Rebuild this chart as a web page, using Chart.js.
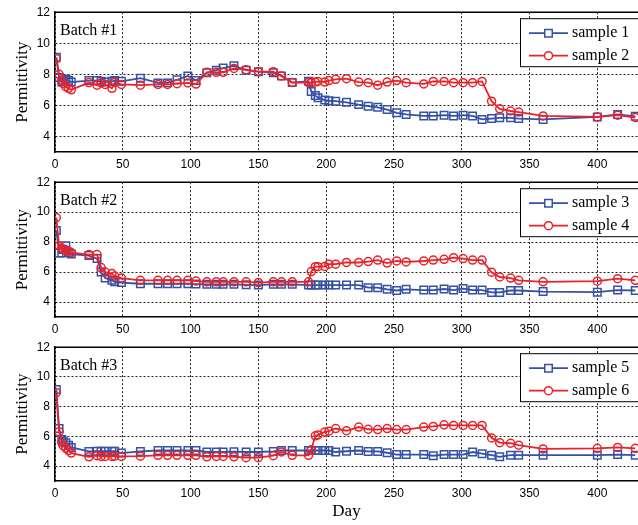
<!DOCTYPE html>
<html>
<head>
<meta charset="utf-8">
<script src="https://cdn.jsdelivr.net/npm/chart.js@4.4.1/dist/chart.umd.min.js"></script>
<style>
  body { margin: 0; background: #fff; width: 638px; height: 525px; overflow: hidden; position: relative; }
  canvas { position: absolute; left: 0; }
</style>
</head>
<body>
<canvas id="c1" width="638" height="170" style="top:0px"></canvas>
<canvas id="c2" width="638" height="165" style="top:170px"></canvas>
<canvas id="c3" width="638" height="190" style="top:335px"></canvas>
<script>
const days = [1, 3, 5, 6, 8, 10, 12, 25, 31, 34, 37, 42, 44, 49, 63, 76, 83, 90, 98, 104,
  112, 119, 124, 132, 141, 150, 161, 167, 175, 187, 189, 192, 194, 199, 202, 207, 215, 224,
  231, 238, 245, 252, 259, 272, 279, 287, 294, 301, 308, 315, 322, 328, 336, 342, 360, 400, 415, 428];

const sample1 = [9.1, 7.8, 7.5, 7.6, 7.7, 7.6, 7.5, 7.6, 7.6, 7.55, 7.5, 7.55, 7.6, 7.55, 7.75, 7.45, 7.45, 7.65, 7.9, 7.6,
  8.1, 8.27, 8.4, 8.55, 8.27, 8.17, 8.1, 7.9, 7.47, 7.55, 6.9, 6.63, 6.5, 6.34, 6.3, 6.27, 6.2, 6.05,
  5.95, 5.88, 5.73, 5.52, 5.42, 5.32, 5.32, 5.37, 5.32, 5.37, 5.32, 5.1, 5.15, 5.2, 5.2, 5.15, 5.1, 5.26, 5.42, 5.3];
const sample2 = [9.0, 8.0, 7.6, 7.4, 7.2, 7.1, 7.0, 7.47, 7.3, 7.45, 7.35, 7.1, 7.47, 7.35, 7.3, 7.35, 7.35, 7.4, 7.45, 7.37,
  8.13, 8.13, 8.13, 8.38, 8.3, 8.17, 8.17, 7.9, 7.47, 7.47, 7.47, 7.5, 7.54, 7.5, 7.6, 7.68, 7.72, 7.5,
  7.46, 7.3, 7.5, 7.6, 7.46, 7.38, 7.54, 7.54, 7.46, 7.46, 7.46, 7.54, 6.27, 5.78, 5.64, 5.57, 5.32, 5.26, 5.37, 5.22];
const sample3 = [8.78, 7.28, 7.28, 7.5, 7.75, 7.3, 7.2, 7.1, 6.9, 6.0, 5.6, 5.45, 5.35, 5.3, 5.22, 5.22, 5.22, 5.22, 5.22, 5.2,
  5.18, 5.18, 5.18, 5.18, 5.15, 5.13, 5.18, 5.18, 5.18, 5.13, 5.13, 5.13, 5.13, 5.13, 5.13, 5.13, 5.13, 5.13,
  4.96, 4.96, 4.85, 4.77, 4.85, 4.8, 4.8, 4.87, 4.8, 4.9, 4.8, 4.8, 4.64, 4.64, 4.77, 4.77, 4.7, 4.66, 4.8, 4.77];
const sample4 = [9.64, 7.75, 7.6, 7.5, 7.45, 7.4, 7.3, 7.17, 7.17, 6.3, 6.0, 5.9, 5.73, 5.6, 5.45, 5.45, 5.45, 5.45, 5.45, 5.4,
  5.35, 5.35, 5.35, 5.35, 5.35, 5.3, 5.35, 5.35, 5.35, 5.35, 6.03, 6.36, 6.36, 6.38, 6.53, 6.53, 6.64, 6.64,
  6.7, 6.8, 6.6, 6.74, 6.68, 6.74, 6.8, 6.85, 6.96, 6.9, 6.8, 6.8, 5.99, 5.67, 5.6, 5.45, 5.35, 5.39, 5.56, 5.45];
const sample5 = [9.16, 6.53, 5.8, 5.68, 5.58, 5.4, 5.26, 4.99, 5.0, 5.0, 5.0, 5.0, 5.0, 4.88, 4.99, 5.05, 5.05, 5.05, 5.05, 5.05,
  4.95, 4.95, 4.95, 4.97, 4.95, 4.95, 4.99, 5.05, 5.05, 5.05, 5.05, 5.05, 5.05, 5.05, 5.05, 4.95, 5.0, 5.05,
  4.99, 4.99, 4.9, 4.78, 4.78, 4.78, 4.7, 4.78, 4.78, 4.78, 4.95, 4.84, 4.74, 4.63, 4.74, 4.74, 4.74, 4.74, 4.78, 4.74];
const sample6 = [8.95, 6.32, 5.58, 5.37, 5.2, 5.05, 4.88, 4.63, 4.7, 4.65, 4.65, 4.65, 4.67, 4.65, 4.67, 4.73, 4.73, 4.73, 4.73, 4.73,
  4.63, 4.65, 4.65, 4.63, 4.57, 4.57, 4.7, 4.95, 4.73, 4.73, 5.1, 6.04, 6.1, 6.3, 6.35, 6.53, 6.38, 6.63,
  6.48, 6.46, 6.53, 6.46, 6.46, 6.63, 6.67, 6.78, 6.74, 6.74, 6.74, 6.74, 5.9, 5.58, 5.54, 5.41, 5.16, 5.2, 5.26, 5.2];

const xTicks = [0, 50, 100, 150, 200, 250, 300, 350, 400];
const yTicks = [4, 6, 8, 10, 12];

const BLUE = "#3451a6";
const RED = "#e8232b";
const serif = "'Liberation Serif', 'Times New Roman', serif";
const sans = "'Liberation Sans', Arial, sans-serif";

// box top, batch label and legend drawn inside the plot
const panelDeco = {
  id: "panelDeco",
  afterDraw(chart, args, opts) {
    const { ctx, chartArea } = chart;
    ctx.save();
    ctx.strokeStyle = "#000";
    ctx.lineWidth = 1.5;
    ctx.beginPath();
    ctx.moveTo(chartArea.left, chartArea.top);
    ctx.lineTo(chartArea.right, chartArea.top);
    ctx.stroke();

    ctx.fillStyle = "#000";
    ctx.font = "16px " + serif;
    ctx.textBaseline = "middle";
    ctx.textAlign = "left";
    ctx.fillText(opts.batch, 60, chartArea.top + 19);

    const bx = 520, by = chartArea.top + 6;
    ctx.fillStyle = "#fff";
    ctx.fillRect(bx, by, 130, 48);
    ctx.lineWidth = 1;
    ctx.strokeRect(bx + 0.5, by + 0.5, 130, 48);

    chart.data.datasets.forEach((ds, i) => {
      const y = by + 15 + i * 22.5;
      ctx.strokeStyle = ds.borderColor;
      ctx.lineWidth = 1.8;
      ctx.beginPath();
      ctx.moveTo(529, y);
      ctx.lineTo(568, y);
      ctx.stroke();
      ctx.lineWidth = 1.5;
      ctx.fillStyle = "#fff";
      ctx.beginPath();
      if (ds.pointStyle === "rect") {
        ctx.rect(548.5 - 3.75, y - 3.75, 7.5, 7.5);
      } else {
        ctx.arc(548.5, y, 4, 0, Math.PI * 2);
      }
      ctx.fill();
      ctx.stroke();
      ctx.fillStyle = "#000";
      ctx.font = "16px " + serif;
      ctx.fillText(ds.label, 572, y);
    });
    ctx.restore();
  }
};

function series(label, vals, color, style) {
  return {
    label: label,
    data: days.map((d, i) => ({ x: d, y: vals[i] })),
    borderColor: color,
    borderWidth: 1.8,
    pointStyle: style,
    pointRadius: style === "rect" ? 5.3 : 4,
    pointBorderWidth: 1.5,
    pointBorderColor: color,
    pointBackgroundColor: "rgba(255,255,255,0)",
    order: style === "rect" ? 1 : 0,
    tension: 0
  };
}

function makePanel(id, batch, blue, red, padTop, xHeight, showDay) {
  new Chart(document.getElementById(id), {
    type: "line",
    data: {
      datasets: [
        series(blue[0], blue[1], BLUE, "rect"),
        series(red[0], red[1], RED, "circle")
      ]
    },
    options: {
      responsive: false,
      animation: false,
      events: [],
      layout: { autoPadding: false, padding: { top: padTop, left: 0, right: 0, bottom: 0 } },
      plugins: {
        legend: { display: false },
        tooltip: { enabled: false },
        panelDeco: { batch: batch }
      },
      scales: {
        x: {
          type: "linear",
          min: 0,
          max: 430,
          afterBuildTicks: (s) => { s.ticks = xTicks.map(v => ({ value: v })); },
          afterFit: (s) => { s.height = xHeight; },
          grid: { color: "#222", lineWidth: 1, drawTicks: false },
          border: { display: true, color: "#000", width: 1.5, dash: [2, 2] },
          ticks: { color: "#000", font: { family: sans, size: 12 }, padding: 5, maxRotation: 0 },
          title: {
            display: showDay, text: "Day", color: "#000",
            font: { family: serif, size: 17 }, padding: { top: 0, bottom: 3 }
          }
        },
        y: {
          min: 3,
          max: 12,
          afterBuildTicks: (s) => { s.ticks = yTicks.map(v => ({ value: v })); },
          afterFit: (s) => { s.width = 55; },
          grid: { color: "#222", lineWidth: 1, drawTicks: false },
          border: { display: true, color: "#000", width: 1.5, dash: [2, 2] },
          ticks: { color: "#000", font: { family: sans, size: 12 }, padding: 5 },
          title: {
            display: true, text: "Permittivity", color: "#000",
            font: { family: serif, size: 17 }, padding: { top: 12, bottom: 0 }
          }
        }
      }
    },
    plugins: [panelDeco]
  });
}

makePanel("c1", "Batch #1", ["sample 1", sample1], ["sample 2", sample2], 9, 18, false);
makePanel("c2", "Batch #2", ["sample 3", sample3], ["sample 4", sample4], 7, 18, false);
makePanel("c3", "Batch #3", ["sample 5", sample5], ["sample 6", sample6], 4, 44, true);
</script>
</body>
</html>
